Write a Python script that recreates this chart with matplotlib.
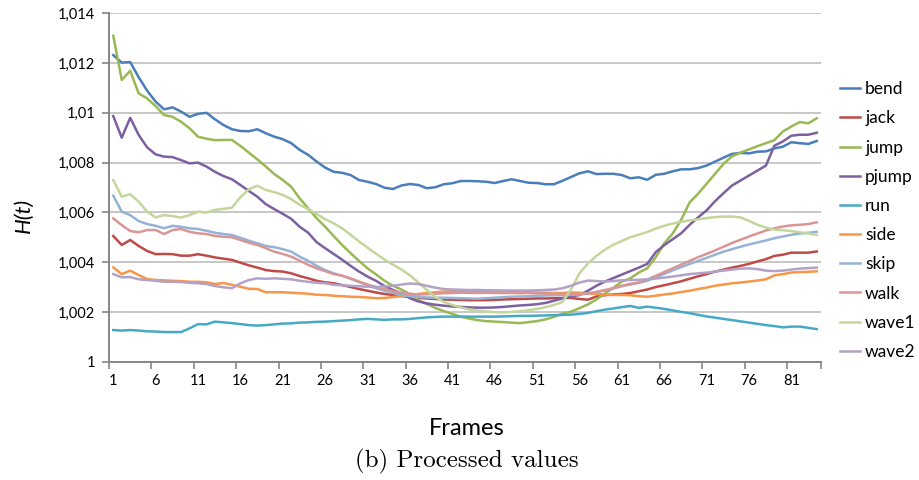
import matplotlib
matplotlib.use("Agg")
import matplotlib.pyplot as plt
from matplotlib.ticker import FixedLocator, FuncFormatter

frames = list(range(1, 85))
series_names = ["bend", "jack", "jump", "pjump", "run", "side", "skip", "walk", "wave1", "wave2"]

bend = [1.01232, 1.01202, 1.01204, 1.01143, 1.01089, 1.01045, 1.01014, 1.01022, 1.01005, 1.00984,
        1.00996, 1.01000, 1.00974, 1.00951, 1.00934, 1.00927, 1.00926, 1.00934, 1.00918, 1.00904,
        1.00894, 1.00878, 1.00851, 1.00831, 1.00804, 1.00780, 1.00763, 1.00759, 1.00750, 1.00730,
        1.00723, 1.00714, 1.00699, 1.00694, 1.00708, 1.00714, 1.00710, 1.00697, 1.00701, 1.00713,
        1.00717, 1.00726, 1.00726, 1.00725, 1.00723, 1.00718, 1.00726, 1.00733, 1.00726, 1.00719,
        1.00718, 1.00713, 1.00713, 1.00727, 1.00742, 1.00757, 1.00765, 1.00754, 1.00755, 1.00755,
        1.00750, 1.00737, 1.00741, 1.00731, 1.00751, 1.00755, 1.00765, 1.00773, 1.00773, 1.00778,
        1.00788, 1.00804, 1.00820, 1.00835, 1.00839, 1.00837, 1.00844, 1.00845, 1.00857, 1.00864,
        1.00882, 1.00878, 1.00875, 1.00887]

jack = [1.00505, 1.00469, 1.00489, 1.00465, 1.00445, 1.00432, 1.00433, 1.00432, 1.00426, 1.00426,
        1.00432, 1.00426, 1.00419, 1.00414, 1.00409, 1.00398, 1.00387, 1.00378, 1.00368, 1.00364,
        1.00362, 1.00355, 1.00344, 1.00335, 1.00325, 1.00319, 1.00315, 1.00308, 1.00300, 1.00292,
        1.00285, 1.00278, 1.00272, 1.00268, 1.00264, 1.00260, 1.00257, 1.00254, 1.00252, 1.00250,
        1.00249, 1.00248, 1.00247, 1.00247, 1.00247, 1.00248, 1.00250, 1.00251, 1.00252, 1.00253,
        1.00254, 1.00254, 1.00255, 1.00256, 1.00256, 1.00252, 1.00249, 1.00262, 1.00267, 1.00270,
        1.00272, 1.00276, 1.00283, 1.00290, 1.00300, 1.00307, 1.00315, 1.00323, 1.00333, 1.00343,
        1.00352, 1.00362, 1.00370, 1.00378, 1.00385, 1.00393, 1.00403, 1.00412, 1.00425, 1.00430,
        1.00438, 1.00438, 1.00438, 1.00443]

jump = [1.01310, 1.01132, 1.01169, 1.01078, 1.01058, 1.01027, 1.00991, 1.00984, 1.00964, 1.00938,
        1.00904, 1.00896, 1.00890, 1.00891, 1.00891, 1.00867, 1.00840, 1.00813, 1.00784, 1.00754,
        1.00730, 1.00703, 1.00656, 1.00616, 1.00576, 1.00542, 1.00505, 1.00469, 1.00436, 1.00405,
        1.00375, 1.00351, 1.00325, 1.00305, 1.00290, 1.00271, 1.00248, 1.00232, 1.00216, 1.00203,
        1.00192, 1.00181, 1.00173, 1.00167, 1.00163, 1.00161, 1.00159, 1.00157, 1.00155, 1.00159,
        1.00163, 1.00170, 1.00180, 1.00193, 1.00201, 1.00215, 1.00230, 1.00250, 1.00274, 1.00297,
        1.00322, 1.00335, 1.00358, 1.00375, 1.00420, 1.00475, 1.00515, 1.00570, 1.00640, 1.00675,
        1.00715, 1.00755, 1.00795, 1.00825, 1.00840, 1.00853, 1.00866, 1.00878, 1.00890, 1.00925,
        1.00945, 1.00963, 1.00958, 1.00978]

pjump = [1.00987, 1.00900, 1.00980, 1.00911, 1.00861, 1.00833, 1.00824, 1.00822, 1.00810, 1.00797,
         1.00800, 1.00784, 1.00763, 1.00746, 1.00733, 1.00710, 1.00686, 1.00663, 1.00633, 1.00613,
         1.00594, 1.00574, 1.00542, 1.00518, 1.00480, 1.00456, 1.00433, 1.00410, 1.00385, 1.00362,
         1.00342, 1.00325, 1.00304, 1.00288, 1.00275, 1.00255, 1.00242, 1.00234, 1.00229, 1.00225,
         1.00222, 1.00220, 1.00218, 1.00217, 1.00217, 1.00218, 1.00220, 1.00223, 1.00226, 1.00228,
         1.00231, 1.00236, 1.00245, 1.00254, 1.00262, 1.00268, 1.00285, 1.00305, 1.00322, 1.00336,
         1.00350, 1.00364, 1.00378, 1.00393, 1.00440, 1.00468, 1.00492, 1.00516, 1.00550, 1.00580,
         1.00608, 1.00645, 1.00677, 1.00708, 1.00728, 1.00748, 1.00768, 1.00788, 1.00868, 1.00885,
         1.00908, 1.00912, 1.00912, 1.00920]

run = [1.00127, 1.00125, 1.00127, 1.00125, 1.00122, 1.00121, 1.00119, 1.00119, 1.00119, 1.00134,
       1.00151, 1.00150, 1.00161, 1.00158, 1.00155, 1.00151, 1.00147, 1.00145, 1.00147, 1.00150,
       1.00153, 1.00154, 1.00157, 1.00158, 1.00160, 1.00161, 1.00163, 1.00165, 1.00167, 1.00170,
       1.00172, 1.00170, 1.00168, 1.00170, 1.00170, 1.00172, 1.00175, 1.00178, 1.00180, 1.00181,
       1.00181, 1.00181, 1.00181, 1.00181, 1.00181, 1.00181, 1.00182, 1.00183, 1.00184, 1.00184,
       1.00185, 1.00186, 1.00187, 1.00188, 1.00189, 1.00192, 1.00196, 1.00203, 1.00209, 1.00214,
       1.00219, 1.00224, 1.00216, 1.00221, 1.00217, 1.00212, 1.00206, 1.00200, 1.00195, 1.00188,
       1.00182, 1.00177, 1.00172, 1.00167, 1.00162, 1.00157, 1.00152, 1.00147, 1.00143, 1.00138,
       1.00141, 1.00141, 1.00136, 1.00131]

side = [1.00379, 1.00352, 1.00366, 1.00348, 1.00332, 1.00328, 1.00327, 1.00325, 1.00324, 1.00321,
        1.00321, 1.00319, 1.00312, 1.00316, 1.00309, 1.00301, 1.00293, 1.00292, 1.00279, 1.00279,
        1.00279, 1.00277, 1.00275, 1.00273, 1.00269, 1.00268, 1.00265, 1.00263, 1.00261, 1.00260,
        1.00258, 1.00255, 1.00256, 1.00260, 1.00263, 1.00267, 1.00272, 1.00276, 1.00279, 1.00282,
        1.00284, 1.00284, 1.00283, 1.00282, 1.00282, 1.00281, 1.00281, 1.00280, 1.00279, 1.00279,
        1.00278, 1.00277, 1.00276, 1.00276, 1.00278, 1.00277, 1.00274, 1.00272, 1.00270, 1.00268,
        1.00268, 1.00267, 1.00263, 1.00261, 1.00265, 1.00270, 1.00274, 1.00280, 1.00285, 1.00292,
        1.00298, 1.00305, 1.00310, 1.00315, 1.00318, 1.00322, 1.00326, 1.00331, 1.00347, 1.00352,
        1.00358, 1.00360, 1.00361, 1.00363]

skip = [1.00667, 1.00603, 1.00589, 1.00565, 1.00553, 1.00546, 1.00536, 1.00546, 1.00542, 1.00536,
        1.00533, 1.00526, 1.00518, 1.00513, 1.00509, 1.00498, 1.00486, 1.00476, 1.00465, 1.00460,
        1.00452, 1.00442, 1.00422, 1.00405, 1.00385, 1.00368, 1.00355, 1.00345, 1.00333, 1.00320,
        1.00307, 1.00295, 1.00285, 1.00276, 1.00268, 1.00263, 1.00260, 1.00258, 1.00257, 1.00257,
        1.00256, 1.00255, 1.00254, 1.00253, 1.00255, 1.00257, 1.00259, 1.00261, 1.00262, 1.00263,
        1.00265, 1.00266, 1.00267, 1.00268, 1.00268, 1.00270, 1.00275, 1.00280, 1.00286, 1.00294,
        1.00303, 1.00310, 1.00317, 1.00325, 1.00338, 1.00353, 1.00367, 1.00380, 1.00393, 1.00405,
        1.00417, 1.00430, 1.00442, 1.00452, 1.00462, 1.00471, 1.00479, 1.00487, 1.00496, 1.00503,
        1.00510, 1.00515, 1.00518, 1.00522]

walk = [1.00576, 1.00549, 1.00525, 1.00520, 1.00529, 1.00529, 1.00513, 1.00529, 1.00533, 1.00522,
        1.00516, 1.00513, 1.00505, 1.00502, 1.00500, 1.00489, 1.00478, 1.00469, 1.00456, 1.00442,
        1.00433, 1.00422, 1.00406, 1.00389, 1.00375, 1.00364, 1.00352, 1.00346, 1.00335, 1.00322,
        1.00310, 1.00300, 1.00292, 1.00283, 1.00278, 1.00273, 1.00270, 1.00271, 1.00273, 1.00275,
        1.00276, 1.00277, 1.00277, 1.00276, 1.00277, 1.00276, 1.00276, 1.00276, 1.00275, 1.00276,
        1.00275, 1.00274, 1.00273, 1.00272, 1.00272, 1.00272, 1.00273, 1.00280, 1.00288, 1.00296,
        1.00305, 1.00313, 1.00318, 1.00330, 1.00345, 1.00360, 1.00375, 1.00390, 1.00405, 1.00420,
        1.00433, 1.00447, 1.00462, 1.00477, 1.00490, 1.00503, 1.00515, 1.00527, 1.00536, 1.00543,
        1.00548, 1.00550, 1.00553, 1.00560]

wave1 = [1.00730, 1.00663, 1.00673, 1.00643, 1.00603, 1.00580, 1.00589, 1.00585, 1.00579, 1.00589,
         1.00603, 1.00599, 1.00610, 1.00614, 1.00619, 1.00661, 1.00693, 1.00707, 1.00690, 1.00681,
         1.00670, 1.00653, 1.00630, 1.00613, 1.00593, 1.00573, 1.00556, 1.00536, 1.00510, 1.00483,
         1.00458, 1.00434, 1.00410, 1.00390, 1.00370, 1.00347, 1.00318, 1.00288, 1.00260, 1.00240,
         1.00228, 1.00218, 1.00210, 1.00205, 1.00202, 1.00199, 1.00198, 1.00200, 1.00203, 1.00207,
         1.00212, 1.00219, 1.00228, 1.00240, 1.00290, 1.00355, 1.00395, 1.00425, 1.00450, 1.00470,
         1.00485, 1.00500, 1.00510, 1.00521, 1.00535, 1.00546, 1.00555, 1.00562, 1.00568, 1.00572,
         1.00577, 1.00581, 1.00583, 1.00583, 1.00580, 1.00566, 1.00550, 1.00539, 1.00531, 1.00528,
         1.00525, 1.00520, 1.00515, 1.00509]

wave2 = [1.00352, 1.00339, 1.00340, 1.00331, 1.00328, 1.00325, 1.00321, 1.00321, 1.00320, 1.00317,
         1.00315, 1.00312, 1.00304, 1.00299, 1.00295, 1.00315, 1.00328, 1.00335, 1.00333, 1.00335,
         1.00333, 1.00331, 1.00325, 1.00321, 1.00317, 1.00315, 1.00309, 1.00307, 1.00305, 1.00303,
         1.00301, 1.00300, 1.00302, 1.00305, 1.00310, 1.00314, 1.00312, 1.00305, 1.00297, 1.00292,
         1.00290, 1.00289, 1.00288, 1.00288, 1.00287, 1.00287, 1.00286, 1.00286, 1.00286, 1.00286,
         1.00287, 1.00288, 1.00290, 1.00295, 1.00305, 1.00318, 1.00326, 1.00324, 1.00322, 1.00324,
         1.00327, 1.00328, 1.00329, 1.00331, 1.00334, 1.00338, 1.00342, 1.00347, 1.00352, 1.00355,
         1.00358, 1.00362, 1.00366, 1.00370, 1.00374, 1.00375, 1.00372, 1.00366, 1.00364, 1.00366,
         1.00370, 1.00374, 1.00376, 1.00378]

y_ticks = [1.000, 1.002, 1.004, 1.006, 1.008, 1.010, 1.012, 1.014]
x_tick_labels = [1, 6, 11, 16, 21, 26, 31, 36, 41, 46, 51, 56, 61, 66, 71, 76, 81]

colors = ["#4A7EBB", "#BE4B48", "#98B954", "#7D60A0", "#46AAC5",
          "#F79646", "#95B3D7", "#D99694", "#C3D69B", "#B3A2C7"]
data = [bend, jack, jump, pjump, run, side, skip, walk, wave1, wave2]

plt.rcParams["font.family"] = ["Lato", "DejaVu Sans"]

fig = plt.figure(figsize=(9.2, 4.8), dpi=100)
ax = fig.add_axes([0.1185, 0.2465, 0.7739, 0.7258])

for name, vals, c in zip(series_names, data, colors):
    ax.plot(frames, vals, color=c, lw=1.8, label=name, solid_joinstyle="round")

ax.set_xlim(0.5, 84.5)
ax.set_ylim(1.0, 1.014)
ax.yaxis.set_major_locator(FixedLocator(y_ticks))

def yfmt(v, pos):
    s = f"{v:.3f}".rstrip("0").rstrip(".")
    return s.replace(".", ",")

ax.yaxis.set_major_formatter(FuncFormatter(yfmt))
ax.grid(axis="y", color="#BDBDBD", lw=1.2)
ax.set_axisbelow(True)

# x ticks: marks at category boundaries, labels at categories
ax.set_xticks([t - 0.5 for t in x_tick_labels] + [84.5])
ax.set_xticklabels([])
ax.set_xticks(x_tick_labels, minor=True)
ax.set_xticklabels([str(t) for t in x_tick_labels], minor=True)
ax.tick_params(axis="x", which="major", length=5, color="#868686", width=1.2, direction="out")
ax.tick_params(axis="x", which="minor", length=0, labelsize=10.5, pad=9, labelcolor="#000000")
ax.tick_params(axis="y", length=5, color="#868686", width=1.2, labelsize=10.5, pad=5)

for s in ["top", "right"]:
    ax.spines[s].set_visible(False)
for s in ["left", "bottom"]:
    ax.spines[s].set_color("#868686")
    ax.spines[s].set_linewidth(1.4)

ax.set_ylabel("H(t)", fontsize=16, style="italic")
ax.yaxis.set_label_coords(-0.105, 0.42)
fig.text(0.507, 0.108, "Frames", ha="center", va="center", fontsize=17)
fig.text(0.507, 0.038, "(b) Processed values", ha="center", va="center",
         fontsize=18, family=["cmr10", "DejaVu Serif"])

leg = ax.legend(loc="center left", bbox_to_anchor=(1.0267, 0.405), frameon=False,
                fontsize=12.5, handlelength=1.15, handletextpad=0.3, labelspacing=0.76,
                borderpad=0, borderaxespad=0)

fig.savefig("out.png", dpi=100)
